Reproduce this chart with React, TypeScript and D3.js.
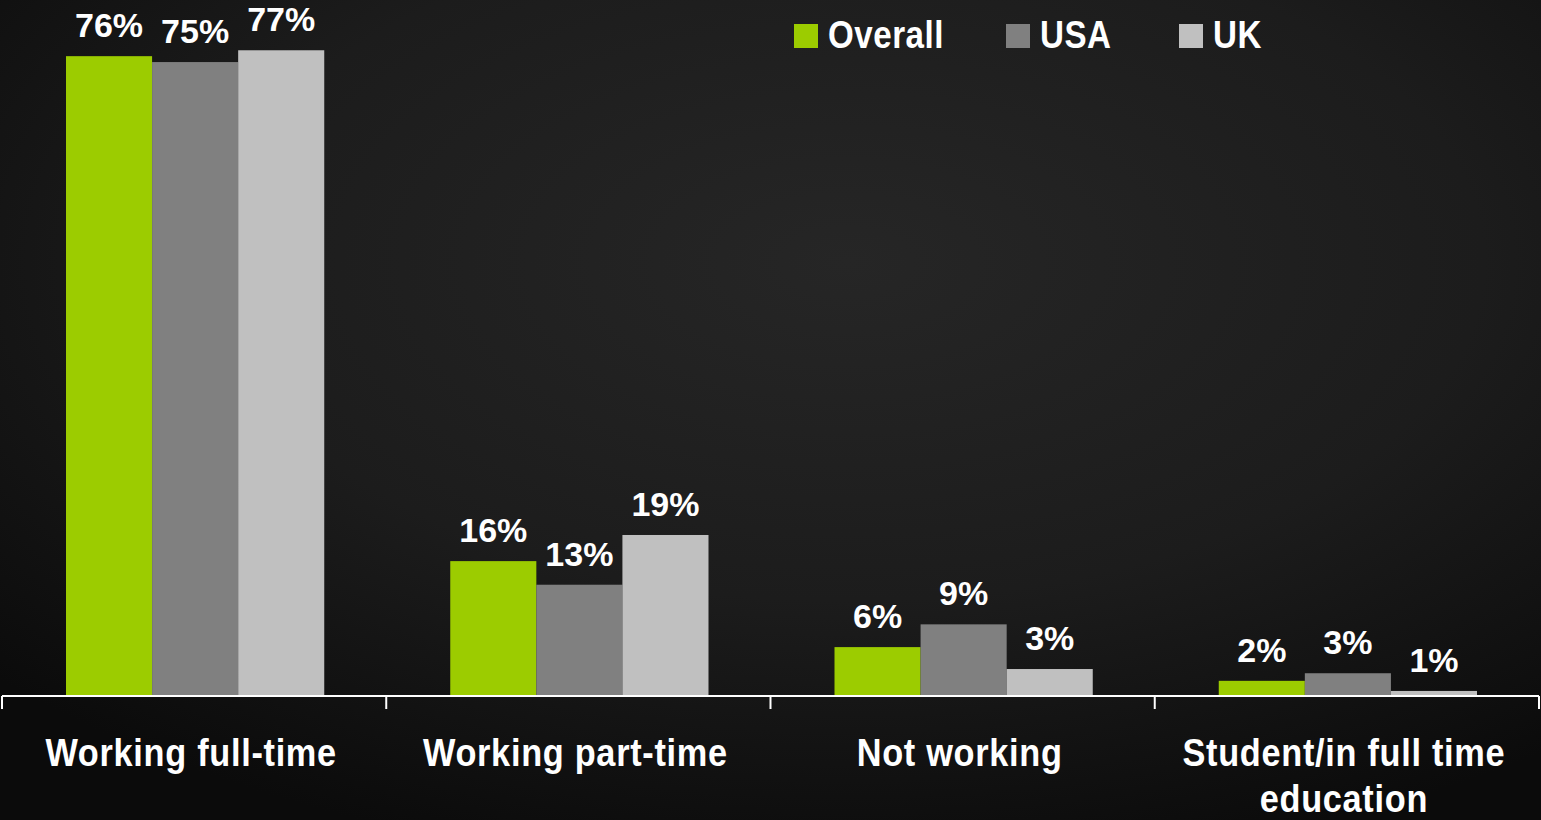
import React from "react";
import * as d3 from "d3";

const categories = ["Working full-time", "Working part-time", "Not working", "Student/in full time education"];
const seriesNames = ["Overall", "USA", "UK"];
const overall = [75.9, 16.0, 5.8, 1.8];
const usa = [75.2, 13.2, 8.5, 2.7];
const uk = [76.6, 19.1, 3.2, 0.6];
const seriesValues = [overall, usa, uk];
const colors = ["#9ccc00", "#808080", "#c0c0c0"];

const W = 1541;
const H = 820;

function wrapLabel(label: string): string[] {
  if (label.length > 20) {
    const idx = label.lastIndexOf(" ");
    return [label.slice(0, idx), label.slice(idx + 1)];
  }
  return [label];
}

export default function App() {
  const baseY = 696;
  const x = d3.scaleBand<string>().domain(categories).range([2, 1539]).padding(0);
  const bw = x.bandwidth();
  const inner = d3.scaleBand<string>().domain(seriesNames).range([64, bw - 62]).padding(0);
  const y = d3.scaleLinear().domain([0, 100]).range([baseY, baseY - 843]);
  const tickXs = [...categories.map((c) => x(c) as number), 1539];
  const labelFont = "'Liberation Sans', Arial, sans-serif";
  const valueFont = "'Liberation Sans', Arial, sans-serif";
  const legendX = [794, 1006, 1179];
  const narrow = 0.88;

  return (
    <svg width={W} height={H} style={{ position: "absolute", left: 0, top: 0, display: "block" }}>
      <defs>
        <radialGradient id="bg" cx="55%" cy="32%" r="75%">
          <stop offset="0%" stopColor="#262626" />
          <stop offset="55%" stopColor="#1c1c1c" />
          <stop offset="100%" stopColor="#0b0b0b" />
        </radialGradient>
      </defs>
      <rect x={0} y={0} width={W} height={H} fill="url(#bg)" />
      {seriesNames.map((s, si) =>
        categories.map((c, ci) => {
          const v = seriesValues[si][ci];
          const bx = (x(c) as number) + (inner(s) as number);
          const iw = inner.bandwidth();
          return (
            <g key={s + c}>
              <rect x={bx} y={y(v)} width={iw} height={baseY - y(v)} fill={colors[si]} />
              <text
                x={bx + iw / 2}
                y={y(v) - 19}
                textAnchor="middle"
                fill="#ffffff"
                fontFamily={valueFont}
                fontWeight="bold"
                fontSize={34}
              >
                {Math.round(v) + "%"}
              </text>
            </g>
          );
        })
      )}
      <line x1={2} x2={1539} y1={baseY} y2={baseY} stroke="#ffffff" strokeWidth={2} />
      {tickXs.map((tx, i) => (
        <line key={i} x1={tx} x2={tx} y1={baseY} y2={baseY + 13} stroke="#ffffff" strokeWidth={2} />
      ))}
      {categories.map((c) => {
        const lines = wrapLabel(c);
        const cx = (x(c) as number) + bw / 2 - 3;
        return (
          <text
            key={c}
            transform={`translate(${cx},766) scale(${narrow},1)`}
            textAnchor="middle"
            fill="#ffffff"
            fontFamily={labelFont}
            fontWeight="bold"
            fontSize={39}
            letterSpacing={0.8}
          >
            {lines.map((l, i) => (
              <tspan key={i} x={0} y={i * 46}>
                {l}
              </tspan>
            ))}
          </text>
        );
      })}
      {seriesNames.map((s, i) => (
        <g key={s} transform={`translate(${legendX[i]},24)`}>
          <rect x={0} y={0} width={24} height={24} fill={colors[i]} />
          <text
            transform={`translate(34,24) scale(0.85,1)`}
            fill="#ffffff"
            fontFamily={labelFont}
            fontWeight="bold"
            fontSize={39}
            letterSpacing={0.6}
          >
            {s}
          </text>
        </g>
      ))}
    </svg>
  );
}
